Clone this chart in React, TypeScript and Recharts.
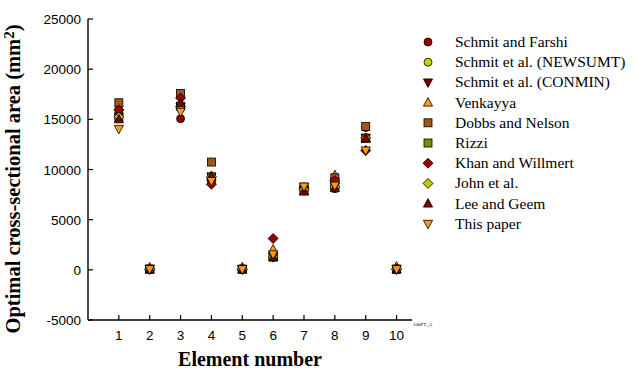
import { ScatterChart, Scatter, XAxis, YAxis } from 'recharts';

const elements = [1, 2, 3, 4, 5, 6, 7, 8, 9, 10];
const yTicks = [-5000, 0, 5000, 10000, 15000, 20000, 25000];

// optimal areas in mm2, element 1..10
const schmitFarshi = [15671, 65, 15064, 8813, 65, 1270, 8174, 8090, 14174, 65];
const schmitNewsumt = [15194, 65, 16316, 9265, 65, 1271, 7994, 8264, 13122, 65];
const schmitConmin = [15194, 114, 16258, 9284, 65, 1269, 8000, 8297, 13168, 65];
const venkayya = [16252, 234, 16400, 9245, 269, 2028, 7794, 9426, 13071, 331];
const dobbsNelson = [16651, 65, 17567, 10742, 65, 1306, 8245, 9174, 14284, 65];
const rizzi = [15180, 65, 16316, 9271, 65, 1271, 7994, 8277, 13116, 65];
const khanWillmert = [15948, 65, 17122, 8529, 70, 3119, 8168, 8890, 11897, 65];
const johnEtAl = [15219, 65, 16290, 9271, 65, 1271, 7994, 8258, 13142, 65];
const leeGeem = [15000, 66, 16600, 9361, 65, 1275, 7877, 8135, 13135, 65];
const thisPaper = [14050, 65, 15750, 8850, 65, 1550, 8300, 8400, 11900, 65];

type Shape = 'circle' | 'triangle' | 'triangleDown' | 'square' | 'diamond';

const series: { name: string; values: number[]; fill: string; shape: Shape }[] = [
  { name: 'Schmit and Farshi', values: schmitFarshi, fill: '#990000', shape: 'circle' },
  { name: 'Schmit et al. (NEWSUMT)', values: schmitNewsumt, fill: '#c8d200', shape: 'circle' },
  { name: 'Schmit et al. (CONMIN)', values: schmitConmin, fill: '#7a0000', shape: 'triangleDown' },
  { name: 'Venkayya', values: venkayya, fill: '#ff9a1a', shape: 'triangle' },
  { name: 'Dobbs and Nelson', values: dobbsNelson, fill: '#a0561a', shape: 'square' },
  { name: 'Rizzi', values: rizzi, fill: '#808a00', shape: 'square' },
  { name: 'Khan and Willmert', values: khanWillmert, fill: '#990000', shape: 'diamond' },
  { name: 'John et al.', values: johnEtAl, fill: '#bccc00', shape: 'diamond' },
  { name: 'Lee and Geem', values: leeGeem, fill: '#800000', shape: 'triangle' },
  { name: 'This paper', values: thisPaper, fill: '#ff9a1a', shape: 'triangleDown' },
];

function Marker({ cx, cy, shape, fill }: { cx: number; cy: number; shape: Shape; fill: string }) {
  const st = { fill, stroke: '#000', strokeWidth: 0.8 };
  if (shape === 'circle') return <circle cx={cx} cy={cy} r={4} {...st} />;
  if (shape === 'square') return <rect x={cx - 4} y={cy - 4} width={8} height={8} {...st} />;
  if (shape === 'diamond')
    return <polygon points={`${cx},${cy - 5} ${cx + 5},${cy} ${cx},${cy + 5} ${cx - 5},${cy}`} {...st} />;
  if (shape === 'triangle')
    return <polygon points={`${cx},${cy - 5} ${cx + 4.6},${cy + 3.5} ${cx - 4.6},${cy + 3.5}`} {...st} />;
  return <polygon points={`${cx},${cy + 5} ${cx + 4.6},${cy - 3.5} ${cx - 4.6},${cy - 3.5}`} {...st} />;
}

const sans = 'Arial, "Liberation Sans", sans-serif';
const serif = '"Times New Roman", "Liberation Serif", serif';

const XTick = (p: any) => {
  const axisY = p.y - 10;
  return (
    <g>
      <line x1={p.x} x2={p.x} y1={axisY} y2={axisY - 5} stroke="#000" strokeWidth={1.2} />
      <text x={p.x} y={axisY + 20} textAnchor="middle" fontFamily={sans} fontSize={13.5} fill="#000">
        {p.payload.value}
      </text>
    </g>
  );
};

const YTick = (p: any) => {
  const axisX = p.x + 8;
  return (
    <g>
      <line x1={axisX} x2={axisX + 5} y1={p.y} y2={p.y} stroke="#000" strokeWidth={1.2} />
      <text x={axisX - 7} y={p.y + 5} textAnchor="end" fontFamily={sans} fontSize={13.5} fill="#000">
        {p.payload.value}
      </text>
    </g>
  );
};

export default function App() {
  return (
    <div style={{ position: 'absolute', left: 0, top: 0, width: 636, height: 381, background: '#fff' }}>
      <ScatterChart width={636} height={381} margin={{ top: 19, right: 224, bottom: 31, left: 28 }}>
        <XAxis
          type="number"
          dataKey="x"
          domain={[0, 10.5]}
          ticks={elements}
          height={30}
          tickSize={0}
          tickMargin={10}
          tickLine={false}
          tick={XTick}
          axisLine={{ stroke: '#000', strokeWidth: 1.4 }}
          label={{
            content: () => (
              <g>
                <text x={250} y={366} textAnchor="middle" fontFamily={serif} fontWeight="bold" fontSize={20} fill="#000">
                  Element number
                </text>
                <text x={413} y={326} fontFamily={serif} fontSize={5} fill="#000">
                  10bPT_A
                </text>
              </g>
            ),
          }}
        />
        <YAxis
          type="number"
          dataKey="y"
          domain={[-5000, 25000]}
          ticks={yTicks}
          width={60}
          tickSize={0}
          tickMargin={8}
          tickLine={false}
          tick={YTick}
          axisLine={{ stroke: '#000', strokeWidth: 1.4 }}
          label={{
            content: () => (
              <text
                x={20}
                y={179}
                transform="rotate(-90, 20, 179)"
                textAnchor="middle"
                fontFamily={serif}
                fontWeight="bold"
                fontSize={20.5}
                fill="#000"
              >
                Optimal cross-sectional area (mm
                <tspan dy={-6} fontSize={15}>2</tspan>
                <tspan dy={6}>)</tspan>
              </text>
            ),
          }}
        />
        {series.map((s) => (
          <Scatter
            key={s.name}
            name={s.name}
            data={elements.map((e, i) => ({ x: e, y: s.values[i] }))}
            isAnimationActive={false}
            shape={(p: any) => <Marker cx={p.cx} cy={p.cy} shape={s.shape} fill={s.fill} />}
          />
        ))}
      </ScatterChart>
      <svg width={636} height={381} style={{ position: 'absolute', left: 0, top: 0, pointerEvents: 'none' }}>
        {series.map((s, i) => {
          const y = 42 + i * 20.2;
          return (
            <g key={s.name}>
              <Marker cx={428} cy={y} shape={s.shape} fill={s.fill} />
              <text x={455} y={y + 5} fontFamily={serif} fontSize={15.5} fill="#000">
                {s.name}
              </text>
            </g>
          );
        })}
      </svg>
    </div>
  );
}
